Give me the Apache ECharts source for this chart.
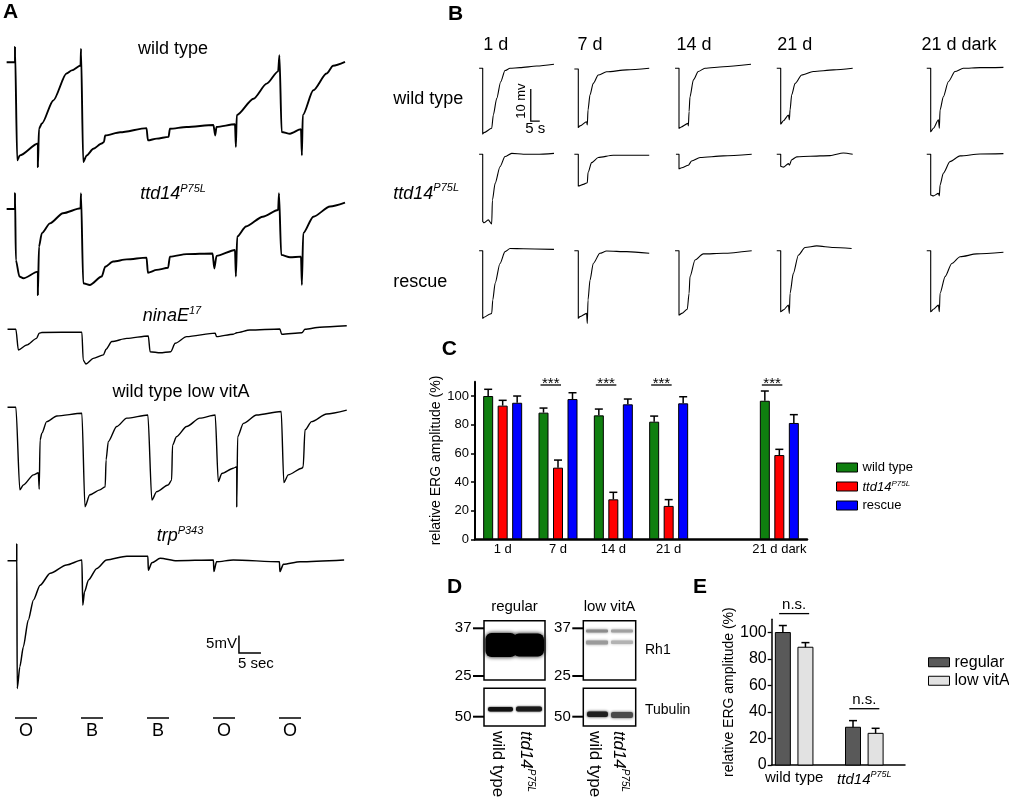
<!DOCTYPE html>
<html><head><meta charset="utf-8">
<script src="https://cdn.jsdelivr.net/npm/echarts@6/dist/echarts.min.js"></script>
<style>html,body{margin:0;padding:0;background:#fff}#c{width:1009px;height:800px}</style>
</head><body><div id="c"></div><script>
// ===================== DATA =====================
// Panel A: ERG traces [time (s), potential (mV)] relative to baseline
const aLabels = ['wild type', 'ttd14P75L', 'ninaE17', 'wild type low vitA', 'trpP343'];
const aWildType = [[-1.9,0],[0,0],[0,4.4],[0.5,-28],[1.1,-26.6],[5.2,-23.2],[5.2,-29.9],[5.45,-19],[6.1,-17.5],[8.7,-10.9],[11.7,-3.2],[12.9,-2.3],[14.9,-0.9],[15,3.9],[15.5,-28.5],[16.3,-26.6],[17.8,-24.7],[19.7,-23.2],[20.2,-22.8],[20.5,-20.9],[23.9,-20],[29.9,-18.8],[30.2,-22.3],[32.2,-21.8],[34.9,-21.3],[35.2,-19],[39,-18.5],[45.1,-17.9],[45.5,-20.9],[45.8,-18.5],[50,-17.7],[50.2,-24.2],[50.4,-15.1],[54.2,-10.4],[57.2,-6.1],[59.8,-2.6],[60.1,2],[60.6,-19.9],[62.5,-20.4],[65,-19.1],[65.2,-26.6],[65.4,-15.1],[67.8,-8],[70.8,-3.2],[72.3,-1],[75,0.1]];
const aTtd14 = [[-1.9,0],[0,0],[0,4.5],[0.2,-14.6],[1,-19.3],[1.9,-19.8],[5.2,-17.9],[5.2,-24.6],[5.45,-10.8],[6.1,-6.9],[7.95,-4.1],[10.9,-1.2],[14.9,0.2],[15,4.5],[15.5,-21.2],[17,-21.7],[19.7,-19.3],[20.5,-16.5],[22.3,-15],[25.4,-14.4],[29.9,-13.9],[30.2,-18.2],[32.2,-17.4],[34.8,-16.8],[35.2,-13.6],[39,-12.9],[44.9,-12.7],[45.3,-17],[45.8,-13.4],[50,-11.7],[50.2,-19.3],[50.5,-7.9],[52.5,-5],[56.3,-2.2],[59.8,-0.3],[60,4.5],[60.5,-13.1],[62.5,-13.8],[65,-13.6],[65.2,-21.7],[65.5,-6.9],[67.8,-2.2],[71.6,0.7],[75,1.8]];
const aNinaE = [[-1.7,0],[0.2,0],[0.76,-5.9],[2.65,-4.5],[4.9,-2.6],[5.5,-1.1],[6.1,-0.9],[15.2,-0.8],[15.5,-8.8],[16.1,-9.9],[17.8,-8.3],[20.1,-7.3],[20.7,-5.7],[22,-3.5],[25.4,-2.6],[30.3,-1.9],[30.7,-6.4],[33,-6.7],[35.4,-6.4],[36.4,-4],[39,-2.1],[45.5,-1.1],[45.8,-2.1],[49.6,-1.4],[50.4,-1],[53.4,-0.2],[60.2,0.1],[60.6,-1.4],[65.2,-1],[65.9,0],[69.3,0.6],[75.4,1]];
const aLowVitA = [[-1.7,0],[0.2,0],[1.1,-23.6],[1.9,-22.2],[4.2,-19.3],[5.3,-18.7],[5.5,-23.4],[5.7,-9.3],[6.1,-7.4],[7.2,-4.1],[9.5,-2.5],[15.2,-1.7],[15.9,-28.4],[17,-25],[19.3,-23.6],[20.5,-22.7],[20.7,-15],[21.2,-9.8],[23.1,-5.5],[25.4,-3.1],[30.2,-2.2],[31.1,-26.5],[32.2,-24.1],[34.8,-22.2],[35.6,-20.8],[35.8,-10.8],[36.7,-8.4],[39,-5.5],[42,-3.1],[45.5,-2.2],[46.2,-21.2],[47,-18.9],[49.6,-17.4],[50.4,-17],[50.4,-28.4],[50.6,-8.4],[51.9,-4.6],[54.9,-2.2],[60.5,-1.2],[61.1,-21.5],[62.1,-19.3],[65.2,-17.4],[65.5,-17],[65.9,-6.5],[67.4,-4.1],[70.8,-1.9],[75.4,-0.8]];
const aTrp = [[-1.7,0],[0.4,0],[0.4,4.8],[0.5,-36.5],[1.1,-30.3],[1.9,-24.6],[3,-17],[4.2,-11.2],[5.7,-7],[8,-3.6],[11.7,-1.2],[15.2,0.2],[15.4,-12.7],[15.8,-8.9],[16.7,-5.5],[18.6,-2.2],[20.8,0.2],[25.4,1.3],[30.2,1.3],[30.3,-2.7],[31.1,-0.6],[33,0.7],[36.7,0],[45.1,0.2],[45.2,-3.1],[45.8,-0.3],[49.6,0.2],[60.1,-0.3],[60.2,-3.1],[61,-1],[64.8,-0.3],[74.8,0.2]];
const aStimLabels = ['O', 'B', 'B', 'O', 'O'];
const aStimOnsets = [0, 15, 30, 45, 60];
const aStimDuration = 5;

// Panel B: ERG traces per age (columns) and genotype (rows)
const bAges = ['1 d', '7 d', '14 d', '21 d', '21 d dark'];
const bGenotypes = ['wild type', 'ttd14P75L', 'rescue'];
const bWildType = [
 [[-2,0],[0,0],[0,-20.5],[0.7,-20.1],[5,-18.75],[5.9,-14.6],[7.8,-9.4],[10,-4.2],[12.4,-0.7],[15.2,0],[20.7,0.2],[30,0.7],[39.6,1.25]],
 [[-2.2,-0.2],[0,-0.2],[0,-18.5],[0.9,-18],[4.6,-16.7],[5,-17.7],[5.4,-13],[6.5,-8.3],[8.3,-4.7],[11.1,-2.1],[15.7,-1.1],[26.9,-0.5],[39.4,0]],
 [[-2.2,0],[0,0],[0,-18.75],[1,-18.4],[5,-17.2],[5.2,-18],[5.6,-13.5],[6.1,-8.9],[8,-3.6],[10.7,-1],[14.4,0],[24.6,0.5],[40,1.25]],
 [[-2.2,0],[0,0],[0,-17.4],[1.5,-16.4],[4.3,-14.6],[4.8,-16.1],[5.2,-13],[6.1,-8.3],[8,-4.7],[11.7,-2.1],[18.1,-1],[29.3,-0.5],[40,0]],
 [[-2.2,0],[0,0],[0,-19.8],[1.5,-18.75],[4.3,-16.1],[4.8,-18.75],[5.2,-13],[7,-8.9],[9.8,-4.2],[13.5,-1],[18.1,0],[27.4,0.2],[40.4,0.3]]
];
const bTtd14 = [
 [[-2,0],[0,0],[0,-21],[0.7,-21.4],[3.1,-20.5],[5,-21.8],[5.4,-14.3],[6.9,-9.1],[9.6,-3.9],[12.4,-0.7],[16.1,0.3],[22.6,0],[30,0],[39.6,0.3]],
 [[-2.2,0],[0,0],[0,-9.9],[2.8,-9.4],[5,-8.9],[5.4,-5.7],[7.4,-2.6],[11.1,-1],[19.4,-0.3],[39.4,-0.3]],
 [[-1.7,0],[0,0],[0,-4.5],[1.5,-4.2],[5.2,-3.4],[7,-2.1],[11.7,-1],[24.6,-0.5],[40.4,0]],
 [[-2.2,0],[0,0],[0,-3.75],[1.5,-4],[4.3,-2.9],[4.8,-3.4],[6.1,-1.7],[8.9,-0.8],[16.3,-0.6],[27.4,-0.4],[34.8,0.4],[40,0]],
 [[-2.2,0],[0,0],[0,-12.7],[1.5,-13],[4.3,-12.2],[4.8,-13],[5.2,-9.6],[7,-5.9],[10.7,-2.3],[16.3,-0.5],[27.4,0.1],[40.4,0.2]]
];
const bRescue = [
 [[-2,0],[0,0],[0,-21.1],[0.7,-20.8],[4.1,-19.8],[5,-19.6],[5.6,-15.4],[6.9,-10.2],[9.6,-4],[12.4,-0.3],[15.2,0.7],[22.6,0.6],[39.6,0.4]],
 [[-2.2,0],[0,0],[0,-21.1],[0.9,-20.6],[4.6,-19.6],[5,-22.7],[5.4,-15.4],[6.5,-9.2],[8.3,-4],[12,-0.8],[15.7,-0.1],[26.9,-0.3],[39.4,-0.8]],
 [[-2.2,0],[0,0],[0,-20.1],[1.5,-19.6],[4.6,-18.3],[5.6,-13.3],[6.1,-8.1],[8.9,-2.9],[13.5,-1],[24.6,-0.8],[40.4,0]],
 [[-2.2,0],[0,0],[0,-19.1],[1.5,-18.5],[4.3,-17],[4.8,-19.6],[5.2,-13.3],[7,-7.1],[9.8,-1.4],[13.5,1],[20,1.5],[29.3,1],[39.4,0.7]],
 [[-2.2,0],[0,0],[0,-19.1],[1.5,-18.3],[4.3,-17],[4.8,-19.1],[5.2,-13.3],[8,-8.1],[11.7,-4],[16.3,-1.9],[25.6,-1],[40.4,-0.5]]
];

// Panel C: relative ERG amplitude (%)
const cCategories = ['1 d', '7 d', '14 d', '21 d', '', '21 d dark'];
const cSeriesNames = ['wild type', 'ttd14P75L', 'rescue'];
const cWildType = [100, 88.4, 86.5, 82.1, null, 96.7];
const cTtd14 = [93.3, 50, 27.9, 23.3, null, 58.8];
const cRescue = [95.3, 97.9, 94.2, 94.9, null, 81.2];
const cWildTypeErr = [4.7, 3.2, 4.4, 3.9, null, 6.8];
const cTtd14Err = [3.7, 5.3, 4.9, 4.4, null, 4.0];
const cRescueErr = [4.7, 4.4, 3.7, 4.6, null, 5.8];
const cSignificant = ['7 d', '14 d', '21 d', '21 d dark'];
const cYTicks = [0, 20, 40, 60, 80, 100];

// Panel D: western blots
const dConditions = ['regular', 'low vitA'];
const dLanes = ['wild type', 'ttd14P75L'];
const dMarkers = ['37', '25', '50'];
const dProteins = ['Rh1', 'Tubulin'];

// Panel E: relative ERG amplitude (%)
const eCategories = ['wild type', 'ttd14P75L'];
const eSeriesNames = ['regular', 'low vitA'];
const eRegular = [100, 28.5];
const eLowVitA = [88.9, 23.9];
const eRegularErr = [5.3, 5.0];
const eLowVitAErr = [3.5, 3.8];
const eYTicks = [0, 20, 40, 60, 80, 100];

// ===================== BUILD =====================
const FONT = '"Liberation Sans", Arial, Helvetica, sans-serif';
const chart = echarts.init(document.getElementById('c'), null, {renderer: 'canvas', width: 1009, height: 800});
const grid = [], xAxis = [], yAxis = [], series = [], graphic = [];

function addGrid(g, xa, ya) {
  grid.push(Object.assign({containLabel: false, outerBoundsMode: 'none', show: false}, g));
  const i = grid.length - 1;
  xAxis.push(Object.assign({gridIndex: i}, xa));
  yAxis.push(Object.assign({gridIndex: i}, ya));
  return i;
}
const hiddenVal = (min, max) => ({type: 'value', min, max, show: false, splitLine: {show: false}, scale: true});

function richLabel(base, sup, size, supSize) {
  return {
    text: '{i|' + base + '}{s|' + sup + '}',
    rich: {
      i: {fontStyle: 'italic', fontSize: size, fontFamily: FONT, fill: '#000', color: '#000', verticalAlign: 'bottom', lineHeight: size + 2},
      s: {fontStyle: 'italic', fontSize: supSize, fontFamily: FONT, fill: '#000', color: '#000', verticalAlign: 'top', lineHeight: supSize}
    }
  };
}
function labelParts(name) {
  if (name === 'ttd14P75L') return ['ttd14', 'P75L'];
  if (name === 'ninaE17') return ['ninaE', '17'];
  if (name === 'trpP343') return ['trp', 'P343'];
  return null;
}
function text(x, y, str, size, extra, elExtra) {
  const parts = labelParts(str);
  let style;
  if (parts) style = Object.assign(richLabel(parts[0], parts[1], size, Math.round(size * 0.6)), {fill: '#000'});
  else style = {text: str, fontSize: size, fontFamily: FONT, fill: '#000'};
  style = Object.assign(style, {align: 'center', verticalAlign: 'middle'}, extra || {});
  return Object.assign({type: 'text', x, y, silent: true, z: 100, style}, elExtra || {});
}
const traceLine = (w) => ({showSymbol: false, symbol: 'none', smooth: 0.25, smoothMonotone: 'x',
  lineStyle: {color: '#000', width: w, join: 'round'}, silent: true, clip: false});

// ---------- Panel A ----------
const A_XMIN = -2, A_XMAX = 75, A_PXS = 4.4, A_PXMV = 3.5, A_LEFT = 15 + A_XMIN * A_PXS;
const aTraces = [aWildType, aTtd14, aNinaE, aLowVitA, aTrp];
const aRows = [
  {base: 62.3, min: -32, max: 6, w: 1.9, lx: 173, ly: 49},
  {base: 209, min: -26, max: 6, w: 1.9, lx: 173, ly: 193},
  {base: 329.3, min: -12, max: 2, w: 1.4, lx: 172, ly: 315},
  {base: 407.3, min: -30, max: 2, w: 1.4, lx: 181, ly: 392},
  {base: 560.7, min: -38, max: 6, w: 1.5, lx: 180, ly: 535}
];
let trpGrid = 0;
aTraces.forEach((d, k) => {
  const r = aRows[k];
  const gi = addGrid({left: A_LEFT, width: (A_XMAX - A_XMIN) * A_PXS, top: r.base - r.max * A_PXMV, height: (r.max - r.min) * A_PXMV},
    hiddenVal(A_XMIN, A_XMAX), hiddenVal(r.min, r.max));
  series.push(Object.assign({type: 'line', name: aLabels[k], xAxisIndex: gi, yAxisIndex: gi, data: d}, traceLine(r.w)));
  graphic.push(text(r.lx, r.ly, aLabels[k], 18));
  if (k === 4) trpGrid = gi;
});
// stimulus bars
const stimGrid = addGrid({left: A_LEFT, width: (A_XMAX - A_XMIN) * A_PXS, top: 718, height: 20},
  hiddenVal(A_XMIN, A_XMAX), hiddenVal(0, 1));
series.push({type: 'custom', xAxisIndex: stimGrid, yAxisIndex: stimGrid, clip: false, silent: true,
  data: aStimOnsets.map(t => [t, t + aStimDuration]),
  encode: {x: [0, 1]},
  renderItem(params, api) {
    const p0 = api.coord([api.value(0), 1]), p1 = api.coord([api.value(1), 1]);
    return {type: 'group', children: [
      {type: 'line', shape: {x1: p0[0], y1: p0[1], x2: p1[0], y2: p1[1]}, style: {stroke: '#000', lineWidth: 1.5}},
      {type: 'text', style: {text: aStimLabels[params.dataIndex], x: (p0[0] + p1[0]) / 2, y: p0[1] + 13, align: 'center', verticalAlign: 'middle', fontSize: 18, fontFamily: FONT, fill: '#000'}}
    ]};
  }});
// scale bar A (5 mV / 5 s)
series.push({type: 'custom', xAxisIndex: trpGrid, yAxisIndex: trpGrid, clip: false, silent: true,
  data: [[50.9, -26.4]],
  renderItem(params, api) {
    const t = api.value(0), v = api.value(1);
    const a = api.coord([t, v + 5]), o = api.coord([t, v]), b = api.coord([t + 5, v]);
    return {type: 'group', children: [
      {type: 'polyline', shape: {points: [a, o, b]}, style: {stroke: '#000', lineWidth: 1.5, fill: null}},
      {type: 'text', style: {text: '5mV', x: o[0] - 2, y: (a[1] + o[1]) / 2, align: 'right', verticalAlign: 'middle', fontSize: 15, fontFamily: FONT, fill: '#000'}},
      {type: 'text', style: {text: '5 sec', x: o[0] - 1, y: o[1] + 11, align: 'left', verticalAlign: 'middle', fontSize: 15, fontFamily: FONT, fill: '#000'}}
    ]};
  }});

// ---------- Panel B ----------
const B_XMIN = -3, B_XMAX = 40, B_PXS = 1.8, B_YMIN = -32, B_YMAX = 3, B_PXMV = 3.2;
const bColOnset = [482.7, 578.3, 679, 780.7, 930.7];
const bRowBase = [68.3, 154.3, 250.7];
const bColLabelX = [495.8, 590, 694, 794.7, 959];
const bRowLabelY = [99.3, 192.7, 281.7];
const bAll = [bWildType, bTtd14, bRescue];
let bFirstGrid = 0;
bAll.forEach((rowData, r) => {
  rowData.forEach((d, c) => {
    const gi = addGrid({left: bColOnset[c] + B_XMIN * B_PXS, width: (B_XMAX - B_XMIN) * B_PXS, top: bRowBase[r] - B_YMAX * B_PXMV, height: (B_YMAX - B_YMIN) * B_PXMV},
      hiddenVal(B_XMIN, B_XMAX), hiddenVal(B_YMIN, B_YMAX));
    if (r === 0 && c === 0) bFirstGrid = gi;
    series.push(Object.assign({type: 'line', name: bGenotypes[r] + ' ' + bAges[c], xAxisIndex: gi, yAxisIndex: gi, data: d}, traceLine(1.1)));
  });
  graphic.push(text(393.3, bRowLabelY[r], bGenotypes[r], 18, {align: 'left'}));
});
bAges.forEach((a, c) => graphic.push(text(bColLabelX[c], 45, a, 18)));
// scale bar B (10 mV / 5 s)
series.push({type: 'custom', xAxisIndex: bFirstGrid, yAxisIndex: bFirstGrid, clip: false, silent: true,
  data: [[26.7, -16.5]],
  renderItem(params, api) {
    const t = api.value(0), v = api.value(1);
    const a = api.coord([t, v + 10]), o = api.coord([t, v]), b = api.coord([t + 5, v]);
    return {type: 'group', children: [
      {type: 'polyline', shape: {points: [a, o, b]}, style: {stroke: '#000', lineWidth: 1.3, fill: null}},
      {type: 'text', rotation: Math.PI / 2, x: o[0] - 9, y: (a[1] + o[1]) / 2 - 4, style: {text: '10 mv', align: 'center', verticalAlign: 'middle', fontSize: 13, fontFamily: FONT, fill: '#000'}},
      {type: 'text', style: {text: '5 s', x: o[0] + 4.5, y: o[1] + 7.5, align: 'center', verticalAlign: 'middle', fontSize: 15, fontFamily: FONT, fill: '#000'}}
    ]};
  }});

// ---------- Panel C ----------
const cColors = ['#0f7f0f', '#ff0000', '#0000ff'];
const cVals = [cWildType, cTtd14, cRescue];
const cErrs = [cWildTypeErr, cTtd14Err, cRescueErr];
const cGrid = addGrid({left: 475, top: 381.7, width: 332, height: 157.6},
  {type: 'category', data: cCategories, boundaryGap: true,
   axisLine: {show: true, lineStyle: {color: '#000', width: 2.5}}, axisTick: {show: false},
   axisLabel: {color: '#000', fontSize: 13, fontFamily: FONT, margin: 4, interval: 0}, splitLine: {show: false}},
  {type: 'value', min: 0, max: 110, splitLine: {show: false},
   axisLine: {show: true, lineStyle: {color: '#000', width: 2}},
   axisTick: {show: true, length: 4, customValues: cYTicks, lineStyle: {color: '#000', width: 1.5}},
   axisLabel: {color: '#000', fontSize: 13, fontFamily: FONT, margin: 6, customValues: cYTicks},
   name: 'relative ERG amplitude (%)', nameLocation: 'middle', nameRotate: 90, nameGap: 31,
   nameTextStyle: {color: '#000', fontSize: 14, fontFamily: FONT}});
const cOffsets = [-14.5, 0, 14.5];
cVals.forEach((vals, s) => {
  series.push({type: 'bar', name: cSeriesNames[s], xAxisIndex: cGrid, yAxisIndex: cGrid,
    data: vals.map(v => v == null ? '-' : v), barWidth: 10, barGap: '45%',
    itemStyle: {color: cColors[s], borderColor: '#000', borderWidth: 1}, silent: true});
});
cVals.forEach((vals, s) => {
  const off = cOffsets[s];
  series.push({type: 'custom', xAxisIndex: cGrid, yAxisIndex: cGrid, clip: false, silent: true, z: 5,
    data: vals.map((v, i) => [i, v, cErrs[s][i]]).filter(d => d[1] != null),
    encode: {x: 0, y: 1},
    renderItem(params, api) {
      const i = api.value(0), v = api.value(1), e = api.value(2);
      const top = api.coord([i, v]), et = api.coord([i, v + e]);
      const cx = top[0] + off;
      return {type: 'group', children: [
        {type: 'line', shape: {x1: cx, y1: top[1], x2: cx, y2: et[1]}, style: {stroke: '#000', lineWidth: 1.5}},
        {type: 'line', shape: {x1: cx - 4, y1: et[1], x2: cx + 4, y2: et[1]}, style: {stroke: '#000', lineWidth: 1.5}}
      ]};
    }});
});
series.push({type: 'custom', xAxisIndex: cGrid, yAxisIndex: cGrid, clip: false, silent: true, z: 5,
  data: cSignificant.map(c => [cCategories.indexOf(c), 107.7]),
  encode: {x: 0, y: 1},
  renderItem(params, api) {
    const p = api.coord([api.value(0), api.value(1)]);
    const x1 = p[0] + cOffsets[0] - 3, x2 = p[0] + cOffsets[1] + 3;
    return {type: 'group', children: [
      {type: 'line', shape: {x1, y1: p[1], x2, y2: p[1]}, style: {stroke: '#000', lineWidth: 1.3}},
      {type: 'text', style: {text: '***', x: (x1 + x2) / 2, y: p[1] + 6, align: 'center', verticalAlign: 'bottom', fontSize: 15, fontFamily: FONT, fill: '#000'}}
    ]};
  }});

// ---------- Panel E ----------
const eColors = ['#595959', '#e2e2e2'];
const eVals = [eRegular, eLowVitA];
const eErrs = [eRegularErr, eLowVitAErr];
const eGrid = addGrid({left: 771.7, top: 619.3, width: 133.3, height: 145.7},
  {type: 'value', min: 0.68, max: 2.58, splitLine: {show: false},
   axisLine: {show: true, onZero: false, lineStyle: {color: '#000', width: 1.5}}, axisTick: {show: false},
   axisLabel: {color: '#000', fontSize: 15, fontFamily: FONT, margin: 5, customValues: [1, 2],
     formatter: v => { const n = eCategories[Math.round(v) - 1]; return n === 'ttd14P75L' ? '{i|ttd14}{s|P75L}' : n; },
     rich: {i: {fontStyle: 'italic', fontSize: 15, fontFamily: FONT, color: '#000', verticalAlign: 'bottom', lineHeight: 17},
            s: {fontStyle: 'italic', fontSize: 9, fontFamily: FONT, color: '#000', verticalAlign: 'top', lineHeight: 9}}}},
  {type: 'value', min: 0, max: 110, splitLine: {show: false},
   axisLine: {show: true, lineStyle: {color: '#000', width: 1.5}},
   axisTick: {show: true, length: 4, customValues: eYTicks, lineStyle: {color: '#000', width: 1.3}},
   axisLabel: {color: '#000', fontSize: 16, fontFamily: FONT, margin: 5, customValues: eYTicks},
   name: 'relative ERG amplitude (%)', nameLocation: 'middle', nameRotate: 90, nameGap: 33,
   nameTextStyle: {color: '#000', fontSize: 14, fontFamily: FONT}});
const eOffsets = [-11.3, 11.3];
eVals.forEach((vals, s) => {
  const off = eOffsets[s], col = eColors[s];
  series.push({type: 'custom', name: eSeriesNames[s], xAxisIndex: eGrid, yAxisIndex: eGrid, clip: false, silent: true,
    itemStyle: {color: col, borderColor: '#000', borderWidth: 1},
    data: vals.map((v, i) => [i + 1, v, eErrs[s][i]]),
    encode: {x: 0, y: 1},
    renderItem(params, api) {
      const x = api.value(0), v = api.value(1), e = api.value(2);
      const base = api.coord([x, 0]), top = api.coord([x, v]), et = api.coord([x, v + e]);
      const cx = base[0] + off, w = 15;
      return {type: 'group', children: [
        {type: 'rect', shape: {x: cx - w / 2, y: top[1], width: w, height: base[1] - top[1]}, style: {fill: col, stroke: '#000', lineWidth: 1}},
        {type: 'line', shape: {x1: cx, y1: top[1], x2: cx, y2: et[1]}, style: {stroke: '#000', lineWidth: 1.5}},
        {type: 'line', shape: {x1: cx - 4, y1: et[1], x2: cx + 4, y2: et[1]}, style: {stroke: '#000', lineWidth: 1.5}}
      ]};
    }});
});
series.push({type: 'custom', xAxisIndex: eGrid, yAxisIndex: eGrid, clip: false, silent: true,
  data: eCategories.map((c, i) => [i + 1, Math.max(eRegular[i] + eRegularErr[i], eLowVitA[i] + eLowVitAErr[i]) + 9]),
  encode: {x: 0, y: 1},
  renderItem(params, api) {
    const p = api.coord([api.value(0), api.value(1)]);
    return {type: 'group', children: [
      {type: 'line', shape: {x1: p[0] - 15, y1: p[1], x2: p[0] + 15, y2: p[1]}, style: {stroke: '#000', lineWidth: 1.3}},
      {type: 'text', style: {text: 'n.s.', x: p[0], y: p[1] - 1, align: 'center', verticalAlign: 'bottom', fontSize: 15, fontFamily: FONT, fill: '#000'}}
    ]};
  }});

// ---------- Panel D (blots) ----------
const dBoxes = [{x: 484, w: 61}, {x: 583.3, w: 52.4}];
const dTop = {y: 620.7, h: 59.3}, dBot = {y: 688.3, h: 37.7};
const dMarkerY = [628.3, 676, 716.7];
const bands = [
  {x: 485.5, y: 633, w: 31, h: 24, c: '#000', b: 4, r: 6},
  {x: 513, y: 633.5, w: 31, h: 23, c: '#000', b: 4, r: 6},
  {x: 586, y: 629.5, w: 22, h: 3, c: '#8c8c8c', b: 3, r: 1},
  {x: 611, y: 629.5, w: 22, h: 3, c: '#a0a0a0', b: 3, r: 1},
  {x: 586, y: 640.5, w: 22, h: 4, c: '#9a9a9a', b: 3, r: 1},
  {x: 611, y: 640.5, w: 22, h: 3.5, c: '#b2b2b2', b: 3, r: 1},
  {x: 488, y: 707, w: 25, h: 4.5, c: '#111', b: 2, r: 2},
  {x: 516, y: 706.5, w: 26, h: 5, c: '#1a1a1a', b: 2, r: 2},
  {x: 587, y: 711.5, w: 21, h: 5.5, c: '#1f1f1f', b: 3, r: 2},
  {x: 611, y: 712, w: 22, h: 6, c: '#4a4a4a', b: 3, r: 2}
];
bands.forEach(b => graphic.push({type: 'rect', silent: true, z: 50, shape: {x: b.x, y: b.y, width: b.w, height: b.h, r: b.r},
  style: {fill: b.c, shadowBlur: b.b, shadowColor: b.c}}));
dBoxes.forEach((bx, k) => {
  [dTop, dBot].forEach(p => graphic.push({type: 'rect', silent: true, z: 60, shape: {x: bx.x, y: p.y, width: bx.w, height: p.h},
    style: {fill: null, stroke: '#000', lineWidth: 1.5}}));
  dMarkerY.forEach((y, m) => {
    graphic.push({type: 'line', silent: true, z: 60, shape: {x1: bx.x - 11, y1: y, x2: bx.x, y2: y}, style: {stroke: '#000', lineWidth: 2}});
    graphic.push(text(bx.x - 12.5, y, dMarkers[m], 15, {align: 'right'}));
  });
  graphic.push(text(bx.x + bx.w / 2, 607, dConditions[k], 15));
  const laneX = [bx.x + bx.w * 0.22, bx.x + bx.w * 0.7];
  dLanes.forEach((ln, j) => graphic.push(text(laneX[j], 731, ln, 17, {align: 'left'}, {rotation: -Math.PI / 2})));
});
graphic.push(text(645, 650, dProteins[0], 14, {align: 'left'}));
graphic.push(text(645, 710, dProteins[1], 14, {align: 'left'}));

// ---------- Panel letters ----------
[['A', 3, 12.5], ['B', 448, 14], ['C', 441.7, 349], ['D', 447, 587], ['E', 693, 587]].forEach(l =>
  graphic.push({type: 'text', x: l[1], y: l[2], silent: true, z: 100,
    style: {text: l[0], fontSize: 21, fontWeight: 'bold', fontFamily: FONT, fill: '#000', align: 'left', verticalAlign: 'middle'}}));

// ---------- Legends ----------
const legendRich = size => ({
  i: {fontStyle: 'italic', fontSize: size, fontFamily: FONT, color: '#000', verticalAlign: 'bottom', lineHeight: size + 1},
  s: {fontStyle: 'italic', fontSize: Math.round(size * 0.6), fontFamily: FONT, color: '#000', verticalAlign: 'top', lineHeight: Math.round(size * 0.6)}
});
const legend = [
  {orient: 'vertical', left: 836, top: 460.5, padding: 0, itemWidth: 21, itemHeight: 9, itemGap: 5, icon: 'rect', selectedMode: false,
   data: cSeriesNames.map((n, s) => ({name: n, itemStyle: {color: cColors[s], borderColor: '#000', borderWidth: 1}})),
   formatter: n => n === 'ttd14P75L' ? '{i|ttd14}{s|P75L}' : n,
   textStyle: {fontSize: 13, fontFamily: FONT, color: '#000', lineHeight: 14, rich: legendRich(13)}},
  {orient: 'vertical', left: 928, top: 654, padding: 0, itemWidth: 21, itemHeight: 9, itemGap: 2, icon: 'rect', selectedMode: false,
   data: eSeriesNames.map((n, s) => ({name: n, itemStyle: {color: eColors[s], borderColor: '#000', borderWidth: 1}})),
   textStyle: {fontSize: 16, fontFamily: FONT, color: '#000', lineHeight: 16.5}}
];

chart.setOption({
  backgroundColor: '#fff',
  animation: false,
  textStyle: {fontFamily: FONT},
  grid, xAxis, yAxis, series, legend, graphic
});
</script></body></html>
